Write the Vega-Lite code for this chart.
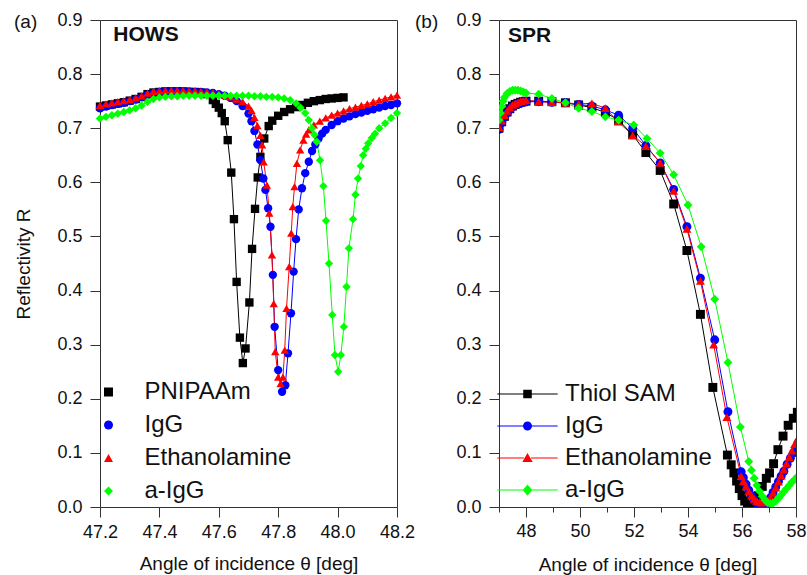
{
 "$schema": "https://vega.github.io/schema/vega-lite/v6.json",
 "background": "white",
 "padding": {"left": 13, "top": 10, "right": 8, "bottom": 2},
 "bounds": "flush",
 "spacing": 102,
 "resolve": {"scale": {"color": "independent", "shape": "independent", "fill": "independent", "stroke": "independent"}},
 "config": {
  "font": "Liberation Sans",
  "view": {"stroke": "#333", "strokeWidth": 1},
  "axis": {"grid": false, "domainColor": "#333", "tickColor": "#333", "labelColor": "#111", "titleColor": "#111", "labelFontSize": 18, "titleFontSize": 19, "titleFontWeight": "normal", "labelFont": "Liberation Sans", "titleFont": "Liberation Sans", "labelOverlap": false},
  "legend": {"labelFont": "Liberation Sans", "labelFontSize": 24, "labelColor": "#111"},
  "title": {"font": "Liberation Sans", "fontSize": 19, "fontWeight": "normal", "color": "#111"}
 },
 "datasets": {
  "hows": [
   {"s":"PNIPAAm","x":47.20,"y":0.740},{"s":"PNIPAAm","x":47.22,"y":0.742},{"s":"PNIPAAm","x":47.24,"y":0.744},{"s":"PNIPAAm","x":47.26,"y":0.746},{"s":"PNIPAAm","x":47.28,"y":0.748},{"s":"PNIPAAm","x":47.30,"y":0.751},{"s":"PNIPAAm","x":47.32,"y":0.754},{"s":"PNIPAAm","x":47.34,"y":0.758},{"s":"PNIPAAm","x":47.36,"y":0.763},{"s":"PNIPAAm","x":47.38,"y":0.766},{"s":"PNIPAAm","x":47.40,"y":0.767},{"s":"PNIPAAm","x":47.42,"y":0.768},{"s":"PNIPAAm","x":47.44,"y":0.768},{"s":"PNIPAAm","x":47.46,"y":0.768},{"s":"PNIPAAm","x":47.48,"y":0.768},{"s":"PNIPAAm","x":47.50,"y":0.767},{"s":"PNIPAAm","x":47.52,"y":0.767},{"s":"PNIPAAm","x":47.54,"y":0.766},{"s":"PNIPAAm","x":47.56,"y":0.763},{"s":"PNIPAAm","x":47.58,"y":0.752},{"s":"PNIPAAm","x":47.59,"y":0.745},{"s":"PNIPAAm","x":47.60,"y":0.738},{"s":"PNIPAAm","x":47.61,"y":0.728},{"s":"PNIPAAm","x":47.62,"y":0.713},{"s":"PNIPAAm","x":47.63,"y":0.678},{"s":"PNIPAAm","x":47.642,"y":0.618},{"s":"PNIPAAm","x":47.651,"y":0.532},{"s":"PNIPAAm","x":47.66,"y":0.416},{"s":"PNIPAAm","x":47.671,"y":0.313},{"s":"PNIPAAm","x":47.681,"y":0.266},{"s":"PNIPAAm","x":47.69,"y":0.293},{"s":"PNIPAAm","x":47.703,"y":0.378},{"s":"PNIPAAm","x":47.712,"y":0.477},{"s":"PNIPAAm","x":47.722,"y":0.551},{"s":"PNIPAAm","x":47.731,"y":0.609},{"s":"PNIPAAm","x":47.74,"y":0.647},{"s":"PNIPAAm","x":47.753,"y":0.681},{"s":"PNIPAAm","x":47.768,"y":0.704},{"s":"PNIPAAm","x":47.78,"y":0.714},{"s":"PNIPAAm","x":47.80,"y":0.723},{"s":"PNIPAAm","x":47.82,"y":0.730},{"s":"PNIPAAm","x":47.84,"y":0.735},{"s":"PNIPAAm","x":47.86,"y":0.739},{"s":"PNIPAAm","x":47.88,"y":0.743},{"s":"PNIPAAm","x":47.90,"y":0.747},{"s":"PNIPAAm","x":47.92,"y":0.750},{"s":"PNIPAAm","x":47.94,"y":0.752},{"s":"PNIPAAm","x":47.96,"y":0.754},{"s":"PNIPAAm","x":47.98,"y":0.755},{"s":"PNIPAAm","x":48.00,"y":0.756},{"s":"PNIPAAm","x":48.02,"y":0.757},
   {"s":"IgG","x":47.20,"y":0.737},{"s":"IgG","x":47.22,"y":0.740},{"s":"IgG","x":47.24,"y":0.743},{"s":"IgG","x":47.26,"y":0.745},{"s":"IgG","x":47.28,"y":0.747},{"s":"IgG","x":47.30,"y":0.750},{"s":"IgG","x":47.32,"y":0.753},{"s":"IgG","x":47.34,"y":0.757},{"s":"IgG","x":47.36,"y":0.762},{"s":"IgG","x":47.38,"y":0.765},{"s":"IgG","x":47.40,"y":0.767},{"s":"IgG","x":47.42,"y":0.768},{"s":"IgG","x":47.44,"y":0.768},{"s":"IgG","x":47.46,"y":0.768},{"s":"IgG","x":47.48,"y":0.768},{"s":"IgG","x":47.50,"y":0.768},{"s":"IgG","x":47.52,"y":0.767},{"s":"IgG","x":47.54,"y":0.767},{"s":"IgG","x":47.56,"y":0.766},{"s":"IgG","x":47.58,"y":0.765},{"s":"IgG","x":47.60,"y":0.763},{"s":"IgG","x":47.62,"y":0.760},{"s":"IgG","x":47.64,"y":0.756},{"s":"IgG","x":47.66,"y":0.750},{"s":"IgG","x":47.68,"y":0.741},{"s":"IgG","x":47.70,"y":0.727},{"s":"IgG","x":47.71,"y":0.713},{"s":"IgG","x":47.72,"y":0.695},{"s":"IgG","x":47.73,"y":0.670},{"s":"IgG","x":47.74,"y":0.641},{"s":"IgG","x":47.75,"y":0.607},{"s":"IgG","x":47.757,"y":0.586},{"s":"IgG","x":47.766,"y":0.552},{"s":"IgG","x":47.774,"y":0.518},{"s":"IgG","x":47.782,"y":0.429},{"s":"IgG","x":47.788,"y":0.333},{"s":"IgG","x":47.80,"y":0.253},{"s":"IgG","x":47.813,"y":0.213},{"s":"IgG","x":47.824,"y":0.225},{"s":"IgG","x":47.833,"y":0.284},{"s":"IgG","x":47.843,"y":0.358},{"s":"IgG","x":47.852,"y":0.435},{"s":"IgG","x":47.86,"y":0.495},{"s":"IgG","x":47.869,"y":0.550},{"s":"IgG","x":47.88,"y":0.589},{"s":"IgG","x":47.891,"y":0.617},{"s":"IgG","x":47.903,"y":0.638},{"s":"IgG","x":47.914,"y":0.658},{"s":"IgG","x":47.925,"y":0.670},{"s":"IgG","x":47.936,"y":0.681},{"s":"IgG","x":47.948,"y":0.690},{"s":"IgG","x":47.96,"y":0.697},{"s":"IgG","x":47.98,"y":0.706},{"s":"IgG","x":48.00,"y":0.713},{"s":"IgG","x":48.02,"y":0.718},{"s":"IgG","x":48.04,"y":0.722},{"s":"IgG","x":48.06,"y":0.726},{"s":"IgG","x":48.08,"y":0.729},{"s":"IgG","x":48.10,"y":0.732},{"s":"IgG","x":48.12,"y":0.735},{"s":"IgG","x":48.14,"y":0.738},{"s":"IgG","x":48.16,"y":0.741},{"s":"IgG","x":48.18,"y":0.743},{"s":"IgG","x":48.20,"y":0.746},
   {"s":"Ethanolamine","x":47.20,"y":0.742},{"s":"Ethanolamine","x":47.22,"y":0.745},{"s":"Ethanolamine","x":47.24,"y":0.747},{"s":"Ethanolamine","x":47.26,"y":0.749},{"s":"Ethanolamine","x":47.28,"y":0.751},{"s":"Ethanolamine","x":47.30,"y":0.753},{"s":"Ethanolamine","x":47.32,"y":0.756},{"s":"Ethanolamine","x":47.34,"y":0.760},{"s":"Ethanolamine","x":47.36,"y":0.765},{"s":"Ethanolamine","x":47.38,"y":0.768},{"s":"Ethanolamine","x":47.40,"y":0.769},{"s":"Ethanolamine","x":47.42,"y":0.770},{"s":"Ethanolamine","x":47.44,"y":0.770},{"s":"Ethanolamine","x":47.46,"y":0.770},{"s":"Ethanolamine","x":47.48,"y":0.770},{"s":"Ethanolamine","x":47.50,"y":0.769},{"s":"Ethanolamine","x":47.52,"y":0.769},{"s":"Ethanolamine","x":47.54,"y":0.768},{"s":"Ethanolamine","x":47.56,"y":0.767},{"s":"Ethanolamine","x":47.58,"y":0.766},{"s":"Ethanolamine","x":47.60,"y":0.764},{"s":"Ethanolamine","x":47.62,"y":0.761},{"s":"Ethanolamine","x":47.64,"y":0.758},{"s":"Ethanolamine","x":47.66,"y":0.754},{"s":"Ethanolamine","x":47.68,"y":0.749},{"s":"Ethanolamine","x":47.70,"y":0.741},{"s":"Ethanolamine","x":47.71,"y":0.733},{"s":"Ethanolamine","x":47.72,"y":0.720},{"s":"Ethanolamine","x":47.73,"y":0.705},{"s":"Ethanolamine","x":47.74,"y":0.687},{"s":"Ethanolamine","x":47.746,"y":0.669},{"s":"Ethanolamine","x":47.751,"y":0.638},{"s":"Ethanolamine","x":47.762,"y":0.595},{"s":"Ethanolamine","x":47.77,"y":0.543},{"s":"Ethanolamine","x":47.779,"y":0.466},{"s":"Ethanolamine","x":47.785,"y":0.376},{"s":"Ethanolamine","x":47.79,"y":0.287},{"s":"Ethanolamine","x":47.80,"y":0.240},{"s":"Ethanolamine","x":47.808,"y":0.228},{"s":"Ethanolamine","x":47.816,"y":0.240},{"s":"Ethanolamine","x":47.822,"y":0.290},{"s":"Ethanolamine","x":47.828,"y":0.367},{"s":"Ethanolamine","x":47.837,"y":0.444},{"s":"Ethanolamine","x":47.844,"y":0.506},{"s":"Ethanolamine","x":47.849,"y":0.555},{"s":"Ethanolamine","x":47.855,"y":0.592},{"s":"Ethanolamine","x":47.863,"y":0.635},{"s":"Ethanolamine","x":47.874,"y":0.660},{"s":"Ethanolamine","x":47.885,"y":0.678},{"s":"Ethanolamine","x":47.894,"y":0.689},{"s":"Ethanolamine","x":47.903,"y":0.697},{"s":"Ethanolamine","x":47.92,"y":0.706},{"s":"Ethanolamine","x":47.94,"y":0.713},{"s":"Ethanolamine","x":47.96,"y":0.719},{"s":"Ethanolamine","x":47.98,"y":0.724},{"s":"Ethanolamine","x":48.00,"y":0.728},{"s":"Ethanolamine","x":48.02,"y":0.732},{"s":"Ethanolamine","x":48.04,"y":0.736},{"s":"Ethanolamine","x":48.06,"y":0.739},{"s":"Ethanolamine","x":48.08,"y":0.742},{"s":"Ethanolamine","x":48.10,"y":0.745},{"s":"Ethanolamine","x":48.12,"y":0.749},{"s":"Ethanolamine","x":48.14,"y":0.752},{"s":"Ethanolamine","x":48.16,"y":0.755},{"s":"Ethanolamine","x":48.18,"y":0.758},{"s":"Ethanolamine","x":48.20,"y":0.761},
   {"s":"a-IgG","x":47.20,"y":0.718},{"s":"a-IgG","x":47.22,"y":0.721},{"s":"a-IgG","x":47.24,"y":0.724},{"s":"a-IgG","x":47.26,"y":0.727},{"s":"a-IgG","x":47.28,"y":0.730},{"s":"a-IgG","x":47.30,"y":0.733},{"s":"a-IgG","x":47.32,"y":0.737},{"s":"a-IgG","x":47.34,"y":0.742},{"s":"a-IgG","x":47.36,"y":0.749},{"s":"a-IgG","x":47.38,"y":0.754},{"s":"a-IgG","x":47.40,"y":0.757},{"s":"a-IgG","x":47.42,"y":0.758},{"s":"a-IgG","x":47.44,"y":0.759},{"s":"a-IgG","x":47.46,"y":0.759},{"s":"a-IgG","x":47.48,"y":0.760},{"s":"a-IgG","x":47.50,"y":0.760},{"s":"a-IgG","x":47.52,"y":0.760},{"s":"a-IgG","x":47.54,"y":0.760},{"s":"a-IgG","x":47.56,"y":0.760},{"s":"a-IgG","x":47.58,"y":0.760},{"s":"a-IgG","x":47.60,"y":0.760},{"s":"a-IgG","x":47.62,"y":0.760},{"s":"a-IgG","x":47.64,"y":0.760},{"s":"a-IgG","x":47.66,"y":0.760},{"s":"a-IgG","x":47.68,"y":0.760},{"s":"a-IgG","x":47.70,"y":0.760},{"s":"a-IgG","x":47.72,"y":0.759},{"s":"a-IgG","x":47.74,"y":0.759},{"s":"a-IgG","x":47.76,"y":0.758},{"s":"a-IgG","x":47.78,"y":0.758},{"s":"a-IgG","x":47.80,"y":0.757},{"s":"a-IgG","x":47.82,"y":0.755},{"s":"a-IgG","x":47.84,"y":0.752},{"s":"a-IgG","x":47.86,"y":0.746},{"s":"a-IgG","x":47.875,"y":0.738},{"s":"a-IgG","x":47.891,"y":0.728},{"s":"a-IgG","x":47.903,"y":0.715},{"s":"a-IgG","x":47.914,"y":0.700},{"s":"a-IgG","x":47.922,"y":0.688},{"s":"a-IgG","x":47.93,"y":0.675},{"s":"a-IgG","x":47.941,"y":0.641},{"s":"a-IgG","x":47.952,"y":0.593},{"s":"a-IgG","x":47.961,"y":0.529},{"s":"a-IgG","x":47.971,"y":0.450},{"s":"a-IgG","x":47.982,"y":0.355},{"s":"a-IgG","x":47.991,"y":0.281},{"s":"a-IgG","x":48.002,"y":0.250},{"s":"a-IgG","x":48.011,"y":0.281},{"s":"a-IgG","x":48.021,"y":0.333},{"s":"a-IgG","x":48.03,"y":0.407},{"s":"a-IgG","x":48.038,"y":0.478},{"s":"a-IgG","x":48.052,"y":0.532},{"s":"a-IgG","x":48.06,"y":0.577},{"s":"a-IgG","x":48.069,"y":0.607},{"s":"a-IgG","x":48.078,"y":0.630},{"s":"a-IgG","x":48.086,"y":0.650},{"s":"a-IgG","x":48.095,"y":0.662},{"s":"a-IgG","x":48.103,"y":0.672},{"s":"a-IgG","x":48.115,"y":0.682},{"s":"a-IgG","x":48.126,"y":0.690},{"s":"a-IgG","x":48.14,"y":0.700},{"s":"a-IgG","x":48.16,"y":0.709},{"s":"a-IgG","x":48.18,"y":0.719},{"s":"a-IgG","x":48.20,"y":0.728}
  ],
  "spr": [
   {"s":"Thiol SAM","x":47.0,"y":0.700},{"s":"Thiol SAM","x":47.1,"y":0.712},{"s":"Thiol SAM","x":47.2,"y":0.722},{"s":"Thiol SAM","x":47.3,"y":0.730},{"s":"Thiol SAM","x":47.4,"y":0.736},{"s":"Thiol SAM","x":47.5,"y":0.741},{"s":"Thiol SAM","x":47.6,"y":0.744},{"s":"Thiol SAM","x":47.7,"y":0.746},{"s":"Thiol SAM","x":47.8,"y":0.748},{"s":"Thiol SAM","x":47.9,"y":0.749},{"s":"Thiol SAM","x":48.0,"y":0.750},{"s":"Thiol SAM","x":48.47,"y":0.750},{"s":"Thiol SAM","x":48.96,"y":0.749},{"s":"Thiol SAM","x":49.46,"y":0.747},{"s":"Thiol SAM","x":49.95,"y":0.743},{"s":"Thiol SAM","x":50.44,"y":0.738},{"s":"Thiol SAM","x":50.94,"y":0.729},{"s":"Thiol SAM","x":51.43,"y":0.715},{"s":"Thiol SAM","x":51.95,"y":0.688},{"s":"Thiol SAM","x":52.44,"y":0.655},{"s":"Thiol SAM","x":52.97,"y":0.622},{"s":"Thiol SAM","x":53.47,"y":0.560},{"s":"Thiol SAM","x":53.96,"y":0.474},{"s":"Thiol SAM","x":54.46,"y":0.356},{"s":"Thiol SAM","x":54.92,"y":0.221},{"s":"Thiol SAM","x":55.46,"y":0.096},{"s":"Thiol SAM","x":55.6,"y":0.078},{"s":"Thiol SAM","x":55.7,"y":0.063},{"s":"Thiol SAM","x":55.8,"y":0.048},{"s":"Thiol SAM","x":55.9,"y":0.034},{"s":"Thiol SAM","x":56.0,"y":0.021},{"s":"Thiol SAM","x":56.1,"y":0.011},{"s":"Thiol SAM","x":56.2,"y":0.004},{"s":"Thiol SAM","x":56.3,"y":0.001},{"s":"Thiol SAM","x":56.4,"y":0.003},{"s":"Thiol SAM","x":56.5,"y":0.010},{"s":"Thiol SAM","x":56.6,"y":0.021},{"s":"Thiol SAM","x":56.75,"y":0.038},{"s":"Thiol SAM","x":56.9,"y":0.053},{"s":"Thiol SAM","x":57.02,"y":0.063},{"s":"Thiol SAM","x":57.17,"y":0.080},{"s":"Thiol SAM","x":57.33,"y":0.106},{"s":"Thiol SAM","x":57.52,"y":0.131},{"s":"Thiol SAM","x":57.71,"y":0.151},{"s":"Thiol SAM","x":57.90,"y":0.164},{"s":"Thiol SAM","x":58.05,"y":0.175},
   {"s":"IgG","x":47.0,"y":0.698},{"s":"IgG","x":47.1,"y":0.710},{"s":"IgG","x":47.2,"y":0.720},{"s":"IgG","x":47.3,"y":0.728},{"s":"IgG","x":47.4,"y":0.735},{"s":"IgG","x":47.5,"y":0.740},{"s":"IgG","x":47.6,"y":0.743},{"s":"IgG","x":47.7,"y":0.745},{"s":"IgG","x":47.8,"y":0.747},{"s":"IgG","x":47.9,"y":0.748},{"s":"IgG","x":48.0,"y":0.749},{"s":"IgG","x":48.47,"y":0.749},{"s":"IgG","x":48.96,"y":0.748},{"s":"IgG","x":49.46,"y":0.747},{"s":"IgG","x":49.95,"y":0.744},{"s":"IgG","x":50.44,"y":0.741},{"s":"IgG","x":50.94,"y":0.734},{"s":"IgG","x":51.43,"y":0.724},{"s":"IgG","x":51.95,"y":0.700},{"s":"IgG","x":52.44,"y":0.668},{"s":"IgG","x":52.97,"y":0.636},{"s":"IgG","x":53.47,"y":0.587},{"s":"IgG","x":53.96,"y":0.518},{"s":"IgG","x":54.46,"y":0.423},{"s":"IgG","x":54.99,"y":0.309},{"s":"IgG","x":55.48,"y":0.176},{"s":"IgG","x":55.97,"y":0.065},{"s":"IgG","x":56.05,"y":0.054},{"s":"IgG","x":56.15,"y":0.042},{"s":"IgG","x":56.25,"y":0.031},{"s":"IgG","x":56.35,"y":0.021},{"s":"IgG","x":56.45,"y":0.013},{"s":"IgG","x":56.55,"y":0.007},{"s":"IgG","x":56.65,"y":0.003},{"s":"IgG","x":56.75,"y":0.002},{"s":"IgG","x":56.85,"y":0.004},{"s":"IgG","x":56.95,"y":0.009},{"s":"IgG","x":57.05,"y":0.017},{"s":"IgG","x":57.15,"y":0.027},{"s":"IgG","x":57.25,"y":0.037},{"s":"IgG","x":57.35,"y":0.047},{"s":"IgG","x":57.45,"y":0.057},{"s":"IgG","x":57.55,"y":0.066},{"s":"IgG","x":57.67,"y":0.079},{"s":"IgG","x":57.79,"y":0.090},{"s":"IgG","x":57.91,"y":0.100},{"s":"IgG","x":58.03,"y":0.108},
   {"s":"Ethanolamine","x":47.0,"y":0.702},{"s":"Ethanolamine","x":47.1,"y":0.714},{"s":"Ethanolamine","x":47.2,"y":0.724},{"s":"Ethanolamine","x":47.3,"y":0.732},{"s":"Ethanolamine","x":47.4,"y":0.738},{"s":"Ethanolamine","x":47.5,"y":0.743},{"s":"Ethanolamine","x":47.6,"y":0.746},{"s":"Ethanolamine","x":47.7,"y":0.748},{"s":"Ethanolamine","x":47.8,"y":0.750},{"s":"Ethanolamine","x":47.9,"y":0.751},{"s":"Ethanolamine","x":48.0,"y":0.752},{"s":"Ethanolamine","x":48.47,"y":0.749},{"s":"Ethanolamine","x":48.96,"y":0.748},{"s":"Ethanolamine","x":49.46,"y":0.747},{"s":"Ethanolamine","x":49.95,"y":0.745},{"s":"Ethanolamine","x":50.44,"y":0.746},{"s":"Ethanolamine","x":50.94,"y":0.737},{"s":"Ethanolamine","x":51.41,"y":0.712},{"s":"Ethanolamine","x":51.95,"y":0.687},{"s":"Ethanolamine","x":52.44,"y":0.667},{"s":"Ethanolamine","x":52.97,"y":0.636},{"s":"Ethanolamine","x":53.47,"y":0.584},{"s":"Ethanolamine","x":53.96,"y":0.514},{"s":"Ethanolamine","x":54.46,"y":0.418},{"s":"Ethanolamine","x":54.95,"y":0.300},{"s":"Ethanolamine","x":55.44,"y":0.166},{"s":"Ethanolamine","x":55.97,"y":0.057},{"s":"Ethanolamine","x":56.05,"y":0.048},{"s":"Ethanolamine","x":56.15,"y":0.038},{"s":"Ethanolamine","x":56.25,"y":0.029},{"s":"Ethanolamine","x":56.35,"y":0.021},{"s":"Ethanolamine","x":56.45,"y":0.015},{"s":"Ethanolamine","x":56.55,"y":0.011},{"s":"Ethanolamine","x":56.65,"y":0.009},{"s":"Ethanolamine","x":56.75,"y":0.008},{"s":"Ethanolamine","x":56.85,"y":0.009},{"s":"Ethanolamine","x":56.95,"y":0.012},{"s":"Ethanolamine","x":57.05,"y":0.018},{"s":"Ethanolamine","x":57.15,"y":0.026},{"s":"Ethanolamine","x":57.25,"y":0.036},{"s":"Ethanolamine","x":57.35,"y":0.047},{"s":"Ethanolamine","x":57.45,"y":0.058},{"s":"Ethanolamine","x":57.55,"y":0.069},{"s":"Ethanolamine","x":57.65,"y":0.080},{"s":"Ethanolamine","x":57.75,"y":0.092},{"s":"Ethanolamine","x":57.85,"y":0.104},{"s":"Ethanolamine","x":57.95,"y":0.116},{"s":"Ethanolamine","x":58.05,"y":0.126},
   {"s":"a-IgG","x":47.0,"y":0.715},{"s":"a-IgG","x":47.05,"y":0.728},{"s":"a-IgG","x":47.1,"y":0.740},{"s":"a-IgG","x":47.15,"y":0.750},{"s":"a-IgG","x":47.2,"y":0.757},{"s":"a-IgG","x":47.3,"y":0.764},{"s":"a-IgG","x":47.4,"y":0.768},{"s":"a-IgG","x":47.5,"y":0.770},{"s":"a-IgG","x":47.6,"y":0.770},{"s":"a-IgG","x":47.7,"y":0.770},{"s":"a-IgG","x":47.8,"y":0.769},{"s":"a-IgG","x":47.9,"y":0.767},{"s":"a-IgG","x":48.0,"y":0.765},{"s":"a-IgG","x":48.47,"y":0.763},{"s":"a-IgG","x":48.96,"y":0.755},{"s":"a-IgG","x":49.46,"y":0.747},{"s":"a-IgG","x":49.95,"y":0.737},{"s":"a-IgG","x":50.44,"y":0.731},{"s":"a-IgG","x":50.94,"y":0.721},{"s":"a-IgG","x":51.43,"y":0.715},{"s":"a-IgG","x":51.99,"y":0.706},{"s":"a-IgG","x":52.48,"y":0.681},{"s":"a-IgG","x":52.97,"y":0.654},{"s":"a-IgG","x":53.47,"y":0.614},{"s":"a-IgG","x":54.0,"y":0.558},{"s":"a-IgG","x":54.49,"y":0.481},{"s":"a-IgG","x":54.99,"y":0.384},{"s":"a-IgG","x":55.48,"y":0.267},{"s":"a-IgG","x":55.94,"y":0.148},{"s":"a-IgG","x":56.25,"y":0.084},{"s":"a-IgG","x":56.35,"y":0.068},{"s":"a-IgG","x":56.45,"y":0.053},{"s":"a-IgG","x":56.55,"y":0.040},{"s":"a-IgG","x":56.65,"y":0.029},{"s":"a-IgG","x":56.75,"y":0.020},{"s":"a-IgG","x":56.85,"y":0.013},{"s":"a-IgG","x":56.95,"y":0.008},{"s":"a-IgG","x":57.05,"y":0.006},{"s":"a-IgG","x":57.15,"y":0.007},{"s":"a-IgG","x":57.25,"y":0.011},{"s":"a-IgG","x":57.35,"y":0.016},{"s":"a-IgG","x":57.45,"y":0.022},{"s":"a-IgG","x":57.55,"y":0.028},{"s":"a-IgG","x":57.65,"y":0.034},{"s":"a-IgG","x":57.75,"y":0.040},{"s":"a-IgG","x":57.85,"y":0.046},{"s":"a-IgG","x":57.95,"y":0.051},{"s":"a-IgG","x":58.05,"y":0.056}
  ]
 },
 "hconcat": [
  {
   "width": 297, "height": 487,
   "title": {"text": "(a)", "anchor": "start", "frame": "group", "orient": "top", "offset": -30, "baseline": "middle", "dx": -86},
   "data": {"name": "hows"},
   "layer": [
    {
     "mark": {"type": "line", "strokeWidth": 1},
     "encoding": {
      "x": {"field": "x", "type": "quantitative", "scale": {"domain": [47.2, 48.2], "nice": false, "zero": false},
            "axis": {"title": "Angle of incidence θ [deg]", "values": [47.2,47.3,47.4,47.5,47.6,47.7,47.8,47.9,48.0,48.1,48.2],
                     "labelExpr": "round(datum.value*10) % 2 == 0 ? format(datum.value, '.1f') : ''",
                     "tickSize": {"condition": {"test": "round(datum.value*10) % 2 == 0", "value": 10}, "value": 5},
                     "labelPadding": 6, "titlePadding": 13, "labelFlush": false}},
      "y": {"field": "y", "type": "quantitative", "scale": {"domain": [0, 0.9], "nice": false},
            "axis": {"title": "Reflectivity R", "values": [0,0.05,0.1,0.15,0.2,0.25,0.3,0.35,0.4,0.45,0.5,0.55,0.6,0.65,0.7,0.75,0.8,0.85,0.9],
                     "labelExpr": "round(datum.value*100) % 10 == 0 ? format(datum.value, '.1f') : ''",
                     "tickSize": {"condition": {"test": "round(datum.value*100) % 10 == 0", "value": 10}, "value": 5},
                     "labelPadding": 8, "titlePadding": 23, "labelFlush": false}},
      "stroke": {"field": "s", "type": "nominal", "scale": {"domain": ["PNIPAAm","IgG","Ethanolamine","a-IgG"], "range": ["#000000","#0000ff","#ff0000","#00ff00"]}, "legend": null},
      "detail": {"field": "s"}
     }
    },
    {
     "mark": {"type": "point", "filled": true, "opacity": 1, "size": 70},
     "encoding": {
      "x": {"field": "x", "type": "quantitative"},
      "y": {"field": "y", "type": "quantitative"},
      "color": {"field": "s", "type": "nominal", "scale": {"domain": ["PNIPAAm","IgG","Ethanolamine","a-IgG"], "range": ["#000000","#0000ff","#ff0000","#00ff00"]},
                "legend": {"title": null, "orient": "none", "legendX": -3.5, "legendY": 360, "symbolSize": 81, "rowPadding": 9, "labelOffset": 24, "padding": 0, "symbolStrokeWidth": 0, "symbolOpacity": 1, "labelFontSize": 24}},
      "shape": {"field": "s", "type": "nominal", "scale": {"domain": ["PNIPAAm","IgG","Ethanolamine","a-IgG"], "range": ["square","circle","triangle-up","diamond"]},
                "legend": {"title": null, "orient": "none", "legendX": -3.5, "legendY": 360, "symbolSize": 81, "rowPadding": 9, "labelOffset": 24, "padding": 0, "symbolStrokeWidth": 0, "symbolOpacity": 1, "labelFontSize": 24}}
     }
    },
    {
     "data": {"values": [{"t": "HOWS"}]},
     "mark": {"type": "text", "fontWeight": "bold", "fontSize": 21, "align": "left", "baseline": "middle", "color": "#111"},
     "encoding": {"x": {"datum": 47.245}, "y": {"datum": 0.872}, "text": {"field": "t"}}
    }
   ],
   "resolve": {"scale": {"color": "independent", "shape": "independent"}}
  },
  {
   "width": 297, "height": 487,
   "title": {"text": "(b)", "anchor": "start", "frame": "group", "orient": "top", "offset": -30, "baseline": "middle", "dx": -84},
   "data": {"name": "spr"},
   "layer": [
    {
     "mark": {"type": "line", "strokeWidth": 1, "clip": true},
     "encoding": {
      "x": {"field": "x", "type": "quantitative", "scale": {"domain": [47, 58], "nice": false, "zero": false},
            "axis": {"title": "Angle of incidence θ [deg]", "orient": "bottom", "values": [48,50,52,54,56,58], "format": "d",
                     "tickSize": 10, "labelPadding": 5, "titlePadding": 15, "labelFlush": false}},
      "y": {"field": "y", "type": "quantitative", "scale": {"domain": [0, 0.9], "nice": false},
            "axis": {"title": null, "values": [0,0.05,0.1,0.15,0.2,0.25,0.3,0.35,0.4,0.45,0.5,0.55,0.6,0.65,0.7,0.75,0.8,0.85,0.9],
                     "labelExpr": "round(datum.value*100) % 10 == 0 ? format(datum.value, '.1f') : ''",
                     "tickSize": {"condition": {"test": "round(datum.value*100) % 10 == 0", "value": 10}, "value": 5},
                     "labelPadding": 8, "labelFlush": false}},
      "stroke": {"field": "s", "type": "nominal", "scale": {"domain": ["Thiol SAM","IgG","Ethanolamine","a-IgG"], "range": ["#000000","#0000ff","#ff0000","#00ff00"]}, "legend": null},
      "detail": {"field": "s"}
     }
    },
    {
     "mark": {"type": "point", "filled": true, "opacity": 1, "size": 80, "clip": true},
     "encoding": {
      "x": {"field": "x", "type": "quantitative", "axis": null},
      "y": {"field": "y", "type": "quantitative"},
      "color": {"field": "s", "type": "nominal", "scale": {"domain": ["Thiol SAM","IgG","Ethanolamine","a-IgG"], "range": ["#000000","#0000ff","#ff0000","#00ff00"]}, "legend": null},
      "shape": {"field": "s", "type": "nominal", "scale": {"domain": ["Thiol SAM","IgG","Ethanolamine","a-IgG"], "range": ["square","circle","triangle-up","diamond"]}, "legend": null}
     }
    },
    {
     "mark": {"type": "point", "filled": true, "opacity": 0, "size": 70, "clip": true},
     "encoding": {
      "x": {"field": "x", "type": "quantitative",
            "axis": {"title": null, "orient": "bottom", "values": [47,49,51,53,55,57], "labels": false, "tickSize": 5, "domain": false}},
      "y": {"field": "y", "type": "quantitative"},
      "fill": {"field": "s", "type": "nominal", "scale": {"domain": ["Thiol SAM","IgG","Ethanolamine","a-IgG"], "range": ["#000000","#0000ff","#ff0000","#00ff00"]},
               "legend": {"title": null, "orient": "none", "legendX": 16.5, "legendY": 362, "symbolSize": 81, "rowPadding": 8, "labelOffset": 25.5, "padding": 0, "symbolStrokeWidth": 0, "symbolOpacity": 1, "labelFontSize": 24}},
      "shape": {"field": "s", "type": "nominal", "scale": {"domain": ["Thiol SAM","IgG","Ethanolamine","a-IgG"],
                "range": ["M-6.7,-0.12H-0.8V0.12H-6.7ZM0.8,-0.12H6.7V0.12H0.8ZM-0.95,-0.95H0.95V0.95H-0.95Z",
                          "M-6.7,-0.12H-0.8V0.12H-6.7ZM0.8,-0.12H6.7V0.12H0.8ZM1,0A1,1,0,1,1,-1,0A1,1,0,1,1,1,0Z",
                          "M-6.7,-0.12H-0.8V0.12H-6.7ZM0.8,-0.12H6.7V0.12H0.8ZM0,-1.1L1.15,0.9H-1.15Z",
                          "M-6.7,-0.12H-0.8V0.12H-6.7ZM0.8,-0.12H6.7V0.12H0.8ZM0,-1.25L1.05,0L0,1.25L-1.05,0Z"]},
               "legend": {"title": null, "orient": "none", "legendX": 16.5, "legendY": 362, "symbolSize": 81, "rowPadding": 8, "labelOffset": 25.5, "padding": 0, "symbolStrokeWidth": 0, "symbolOpacity": 1, "labelFontSize": 24}}
     }
    },
    {
     "data": {"values": [{"t": "SPR"}]},
     "mark": {"type": "text", "fontWeight": "bold", "fontSize": 21, "align": "left", "baseline": "middle", "color": "#111"},
     "encoding": {"x": {"datum": 47.33, "axis": null}, "y": {"datum": 0.871}, "text": {"field": "t"}}
    }
   ],
   "resolve": {"scale": {"shape": "independent", "fill": "independent"}, "axis": {"x": "independent"}}
  }
 ]
}
